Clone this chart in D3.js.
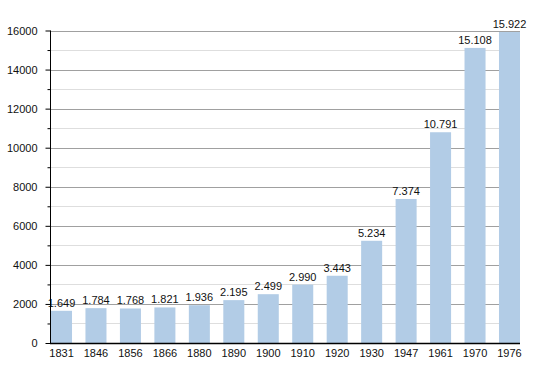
<!DOCTYPE html>
<html>
<head>
<meta charset="utf-8">
<script src="https://cdn.jsdelivr.net/npm/d3@7"></script>
<style>
  body { margin: 0; background: #fff; }
  text { font-family: "Liberation Sans", Arial, sans-serif; }
</style>
</head>
<body>
<script>
// years and population values
var years = ["1831", "1846", "1856", "1866", "1880", "1890", "1900", "1910", "1920", "1930", "1947", "1961", "1970", "1976"];
var population = [1649, 1784, 1768, 1821, 1936, 2195, 2499, 2990, 3443, 5234, 7374, 10791, 15108, 15922];
var majorTicks = [0, 2000, 4000, 6000, 8000, 10000, 12000, 14000, 16000];
var minorTicks = [1000, 3000, 5000, 7000, 9000, 11000, 13000, 15000];

var width = 550, height = 373;
var plotLeft = 50, plotRight = 520, plotTop = 30.5, plotBottom = 343;

var svg = d3.select("body").append("svg")
    .attr("width", width)
    .attr("height", height);

var x = d3.scaleBand()
    .domain(years)
    .range([plotLeft + 1, plotRight])
    .paddingInner(0.39)
    .paddingOuter(0);

var y = d3.scaleLinear()
    .domain([0, 16000])
    .range([plotBottom, plotTop]);

// grid lines
svg.selectAll(".minor")
    .data(minorTicks)
    .enter().append("line")
    .attr("x1", plotLeft).attr("x2", plotRight)
    .attr("y1", function(d) { return Math.round(y(d)) + 0.5; })
    .attr("y2", function(d) { return Math.round(y(d)) + 0.5; })
    .style("stroke", "#dedede");

svg.selectAll(".major")
    .data(majorTicks.slice(1))
    .enter().append("line")
    .attr("x1", plotLeft).attr("x2", plotRight)
    .attr("y1", function(d) { return Math.round(y(d)) + 0.5; })
    .attr("y2", function(d) { return Math.round(y(d)) + 0.5; })
    .style("stroke", "#a0a0a0");

// bars
svg.selectAll(".bar")
    .data(population)
    .enter().append("rect")
    .attr("x", function(d, i) { return x(years[i]); })
    .attr("width", x.bandwidth())
    .attr("y", function(d) { return y(d); })
    .attr("height", function(d) { return plotBottom - y(d); })
    .style("fill", "#b2cce6");

// value labels
function fmt(v) {
  return d3.format(",")(v).replace(/,/g, ".");
}
svg.selectAll(".val")
    .data(population)
    .enter().append("text")
    .attr("x", function(d, i) { return x(years[i]) + x.bandwidth() / 2; })
    .attr("y", function(d) { return y(d) - 4; })
    .attr("text-anchor", "middle")
    .style("font-size", "11px")
    .style("fill", "#111")
    .text(fmt);

// y axis
var yAxis = d3.axisLeft(y)
    .tickValues(majorTicks)
    .tickSize(5)
    .tickPadding(8)
    .tickFormat(d3.format("d"));
var gy = svg.append("g")
    .attr("transform", "translate(" + (plotLeft + 0.5) + ",0)")
    .call(yAxis);
gy.selectAll("text").style("font-size", "11px").style("fill", "#111");
gy.select(".domain").attr("d", "M0," + plotTop + "V" + plotBottom);

svg.append("g")
    .attr("transform", "translate(" + (plotLeft + 0.5) + ",0)")
    .call(d3.axisLeft(y).tickValues(minorTicks).tickSize(3).tickFormat(""))
    .select(".domain").remove();

// x axis
var xAxis = d3.axisBottom(x).tickSize(0).tickPadding(6);
var gx = svg.append("g")
    .attr("transform", "translate(0," + (plotBottom + 0.5) + ")")
    .call(xAxis);
gx.selectAll("text").style("font-size", "11px").style("fill", "#111");
gx.select(".domain").attr("d", "M" + plotLeft + ",0H" + plotRight).style("stroke-width", 1.5);
</script>
</body>
</html>
